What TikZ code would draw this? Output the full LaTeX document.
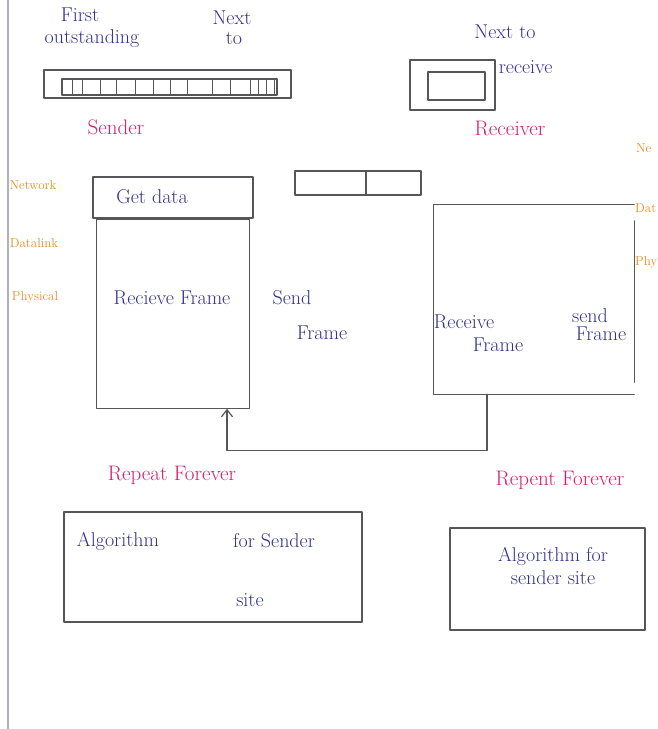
\documentclass[tikz,border=0pt]{standalone}
\usetikzlibrary{positioning,arrows.meta}
\definecolor{inkblue}{RGB}{48,50,140}
\definecolor{inkpink}{RGB}{214,30,112}
\definecolor{inkorange}{RGB}{236,140,30}
\definecolor{pencilgray}{RGB}{85,85,90}
\definecolor{marginline}{RGB}{175,178,190}
\tikzset{
  pencil/.style={draw=pencilgray, line width=1.2pt, inner sep=0pt},
  ink/.style={text=inkblue, font=\fontsize{20}{23}\selectfont, inner sep=1pt},
  pinktext/.style={text=inkpink, font=\fontsize{21}{23}\selectfont, inner sep=1pt},
  layertext/.style={text=inkorange, font=\fontsize{13}{15}\selectfont, inner sep=1pt}
}
\begin{document}
\begin{tikzpicture}[x=1pt, y=-1pt, line join=round, line cap=round,
  >={Straight Barb[length=7pt,width=11pt]}]
	\useasboundingbox (0,0) rectangle (658,729);
	\fill[white] (0,0) rectangle (658,729);
	\draw[marginline, line width=2pt] (8,0) -- (8,729);
	% sender window
	\node[pencil, minimum width=247pt, minimum height=28pt] (swin) at (167.5,84) {};
	\node[pencil, minimum width=215pt, minimum height=16pt] (sslots) at (169.5,87) {};
	\foreach \x in {72,82,100,116,135,153,170,187,212,230,250,258,266,274}
		\draw[pencilgray, line width=1pt] (\x,80) -- (\x,95);
	\node[ink] (first) at (80,15) {First};
	\node[ink] (outst) at (92,39) {outstanding};
	\node[ink] (next) at (232,18) {Next};
	\node[ink] (nextto) at (234,38) {to};
	\node[pinktext] (sender) at (116,127) {Sender};
	% receiver window
	\node[pencil, minimum width=85pt, minimum height=50pt] (rwin) at (452.5,85) {};
	\node[pencil, minimum width=57pt, minimum height=28pt] (rslot) at (456.5,86) {};
	\node[ink] (nextr) at (505,32) {Next to};
	\node[ink, right=2pt of rwin.north east, anchor=north west] (receive) {receive};
	\node[pinktext] (receiver) at (510,128) {Receiver};
	% layers
	\node[layertext] (net) at (33,185) {Network};
	\node[layertext] (dlink) at (34,243) {Datalink};
	\node[layertext] (phys) at (35,297) {Physical};
	\node[layertext, anchor=west] (netr) at (635,148) {Ne};
	\node[layertext, anchor=west] (dlinkr) at (634,208) {Dat};
	\node[layertext, anchor=west] (physr) at (634,262) {Phy};
	% sender site
	\node[pencil, minimum width=160pt, minimum height=41pt] (getdata) at (173,197.5) {};
	\node[pencil, minimum width=153pt, minimum height=189pt, below=0pt of getdata] (sframe) {};
	\node[ink] (getlbl) at (152,197) {Get data};
	\node[ink] (reclbl) at (172,298) {Recieve Frame};
	\node[ink] (sendlbl) at (292,298) {Send};
	\node[ink] (sframelbl) at (322,333) {Frame};
	\node[pencil, minimum width=126pt, minimum height=24pt] (sbuf) at (358,183) {};
	\draw[pencil] (366,172) -- (366,194);
	% receiver site
	\node[minimum width=200pt, minimum height=189pt, inner sep=0pt] (rframe) at (534,299.5) {};
	\draw[pencil] (rframe.north east) -- (rframe.north west) -- (rframe.south west) -- (rframe.south east);
	\draw[pencil] ([yshift=-16pt]rframe.north east) -- ([yshift=12pt]rframe.south east);
	\node[ink] (rreclbl) at (464,322) {Receive};
	\node[ink] (rrecfr) at (498,345) {Frame};
	\node[ink] (rsendlbl) at (590,316) {send};
	\node[ink] (rsendfr) at (601,334) {Frame};
	% loop back
	\coordinate (rtap) at ([xshift=-47pt]rframe.south);
	\coordinate (stap) at ([xshift=54pt]sframe.south);
	\draw[pencil, ->] (rtap) -- ++(0,56) -| (stap);
	\node[pinktext] (srep) at (172,475) {Repeat Forever};
	\node[pinktext] (rrep) at (560,480) {Repent Forever};
	% algorithms
	\node[pencil, minimum width=298pt, minimum height=110pt] (salg) at (213,567) {};
	\node[ink] (salg1) at (118,541) {Algorithm};
	\node[ink] (salg2) at (274,541) {for Sender};
	\node[ink] (salg3) at (250,600) {site};
	\node[pencil, minimum width=195pt, minimum height=102pt] (ralg) at (547.5,579) {};
	\node[ink, align=center] (ralgtxt) at (553,566) {Algorithm for\\sender site};
\end{tikzpicture}
\end{document}
